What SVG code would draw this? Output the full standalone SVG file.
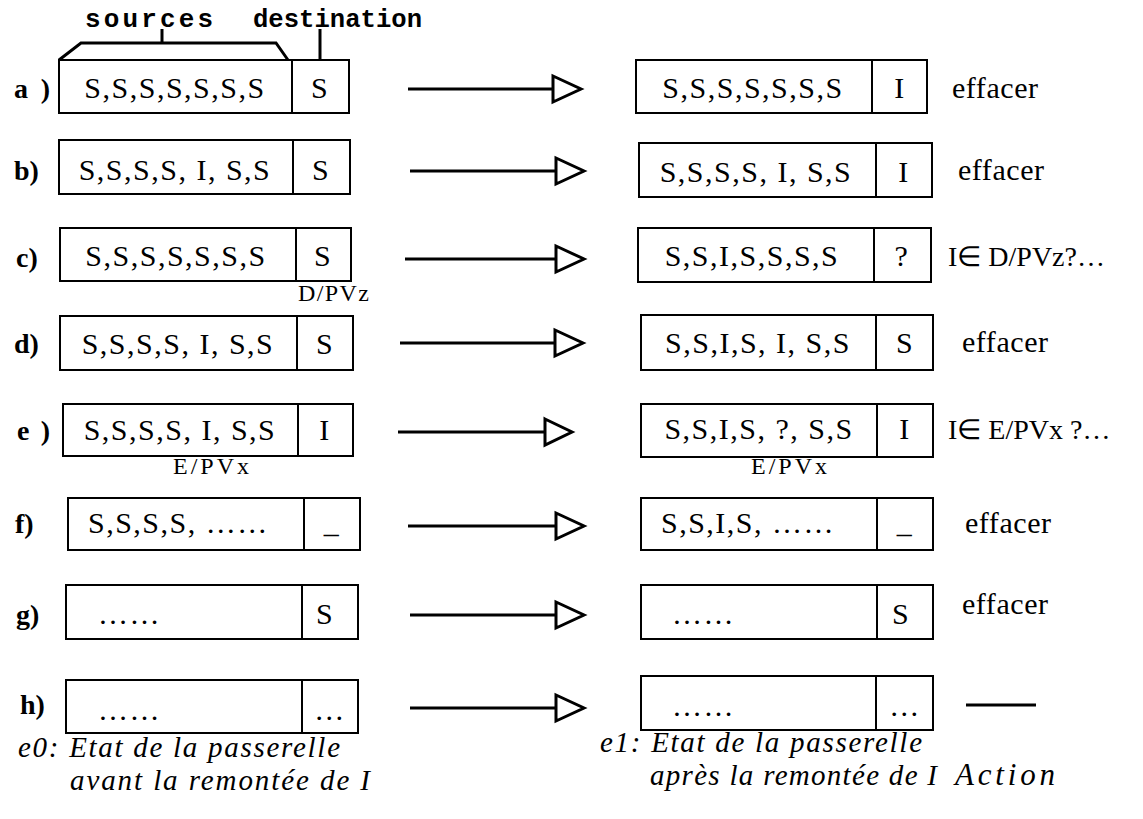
<svg xmlns="http://www.w3.org/2000/svg" width="1143" height="819" viewBox="0 0 1143 819">
<style>
.box{fill:#fff;stroke:#000;stroke-width:2}
.div{stroke:#000;stroke-width:2}
.t{font-family:"Liberation Serif","Times New Roman",serif;font-size:30px;letter-spacing:1.5px;fill:#000}
.m{text-anchor:middle}
.lb{font-family:"Liberation Serif","Times New Roman",serif;font-size:28px;font-weight:bold;fill:#000}
.sm{font-family:"Liberation Serif","Times New Roman",serif;font-size:24px;fill:#000}
.act{font-family:"Liberation Serif","Times New Roman",serif;font-size:30px;fill:#000}
.q{font-family:"Liberation Serif","Times New Roman",serif;font-size:28px;fill:#000}
.mono{font-family:"Liberation Mono","Courier New",monospace;font-size:26px;font-weight:bold;fill:#000}
.it{font-family:"Liberation Serif","Times New Roman",serif;font-size:29px;font-style:italic;fill:#000}
.ln{stroke:#000;stroke-width:3;fill:none}
.tri{stroke:#000;stroke-width:3;fill:#fff;stroke-linejoin:miter}
.br{stroke:#000;stroke-width:3;fill:none}
</style>

<g id="header">
  <text class="mono" x="85" y="27" textLength="128" lengthAdjust="spacing">sources</text>
  <text class="mono" x="253" y="27" textLength="169" lengthAdjust="spacingAndGlyphs">destination</text>
  <polyline class="br" points="59,60 81,43 276,43 288,60"/>
  <line class="br" x1="162" y1="43" x2="162" y2="29"/>
  <line class="br" x1="320" y1="29" x2="320" y2="60"/>
</g>

<g id="row-a">
  <text class="lb" x="14" y="98" textLength="36" lengthAdjust="spacing">a)</text>
  <rect class="box" x="59" y="60" width="290" height="53"/>
  <line class="div" x1="292" y1="60" x2="292" y2="113"/>
  <text class="t m" x="175" y="98">S,S,S,S,S,S,S</text>
  <text class="t m" x="320" y="98">S</text>
  <rect class="box" x="636" y="60" width="291" height="53"/>
  <line class="div" x1="872" y1="60" x2="872" y2="113"/>
  <text class="t m" x="753" y="98">S,S,S,S,S,S,S</text>
  <text class="t m" x="900" y="98">I</text>
  <text class="act" x="952" y="98" textLength="86" lengthAdjust="spacing">effacer</text>
</g>

<g id="row-b">
  <text class="lb" x="14" y="180">b)</text>
  <rect class="box" x="59" y="140" width="291" height="54"/>
  <line class="div" x1="293" y1="140" x2="293" y2="194"/>
  <text class="t m" x="175" y="180">S,S,S,S, I, S,S</text>
  <text class="t m" x="321" y="180">S</text>
  <rect class="box" x="639" y="143" width="293" height="54"/>
  <line class="div" x1="876" y1="143" x2="876" y2="197"/>
  <text class="t m" x="756" y="182">S,S,S,S, I, S,S</text>
  <text class="t m" x="904" y="182">I</text>
  <text class="act" x="958" y="180" textLength="86" lengthAdjust="spacing">effacer</text>
</g>

<g id="row-c">
  <text class="lb" x="16" y="267">c)</text>
  <rect class="box" x="60" y="228" width="291" height="53"/>
  <line class="div" x1="296" y1="228" x2="296" y2="281"/>
  <text class="t m" x="176" y="266">S,S,S,S,S,S,S</text>
  <text class="t m" x="323" y="266">S</text>
  <text class="sm" x="298" y="301" textLength="71" lengthAdjust="spacing">D/PVz</text>
  <rect class="box" x="638" y="228" width="293" height="54"/>
  <line class="div" x1="874" y1="228" x2="874" y2="282"/>
  <text class="t m" x="752" y="266">S,S,I,S,S,S,S</text>
  <text class="t m" x="902" y="266">?</text>
  <text class="q" x="948" y="266">I∈ D/PVz?…</text>
</g>

<g id="row-d">
  <text class="lb" x="14" y="353">d)</text>
  <rect class="box" x="60" y="316" width="293" height="54"/>
  <line class="div" x1="297" y1="316" x2="297" y2="370"/>
  <text class="t m" x="178" y="354">S,S,S,S, I, S,S</text>
  <text class="t m" x="325" y="354">S</text>
  <rect class="box" x="641" y="315" width="292" height="55"/>
  <line class="div" x1="876" y1="315" x2="876" y2="370"/>
  <text class="t m" x="758" y="353">S,S,I,S, I, S,S</text>
  <text class="t m" x="905" y="353">S</text>
  <text class="act" x="962" y="352" textLength="86" lengthAdjust="spacing">effacer</text>
</g>

<g id="row-e">
  <text class="lb" x="17" y="440" textLength="33" lengthAdjust="spacing">e)</text>
  <rect class="box" x="63" y="404" width="290" height="52"/>
  <line class="div" x1="298" y1="404" x2="298" y2="456"/>
  <text class="t m" x="180" y="440">S,S,S,S, I, S,S</text>
  <text class="t m" x="325" y="440">I</text>
  <text class="sm" x="173" y="474" textLength="76" lengthAdjust="spacing">E/PVx</text>
  <rect class="box" x="641" y="404" width="292" height="53"/>
  <line class="div" x1="877" y1="404" x2="877" y2="457"/>
  <text class="t m" x="759" y="439">S,S,I,S, ?, S,S</text>
  <text class="t m" x="905" y="439">I</text>
  <text class="sm" x="751" y="474" textLength="76" lengthAdjust="spacing">E/PVx</text>
  <text class="q" x="948" y="439">I∈ E/PVx ?…</text>
</g>

<g id="row-f">
  <text class="lb" x="15" y="533">f)</text>
  <rect class="box" x="68" y="498" width="292" height="52"/>
  <line class="div" x1="304" y1="498" x2="304" y2="550"/>
  <text class="t" x="88" y="533">S,S,S,S, ……</text>
  <text class="t m" x="332" y="533">_</text>
  <rect class="box" x="641" y="498" width="292" height="52"/>
  <line class="div" x1="877" y1="498" x2="877" y2="550"/>
  <text class="t" x="661" y="533">S,S,I,S, ……</text>
  <text class="t m" x="905" y="533">_</text>
  <text class="act" x="965" y="533" textLength="86" lengthAdjust="spacing">effacer</text>
</g>

<g id="row-g">
  <text class="lb" x="16" y="624">g)</text>
  <rect class="box" x="66" y="585" width="292" height="54"/>
  <line class="div" x1="302" y1="585" x2="302" y2="639"/>
  <text class="t" x="98" y="624">……</text>
  <text class="t m" x="325" y="624">S</text>
  <rect class="box" x="641" y="585" width="292" height="54"/>
  <line class="div" x1="877" y1="585" x2="877" y2="639"/>
  <text class="t" x="672" y="624">……</text>
  <text class="t m" x="901" y="624">S</text>
  <text class="act" x="962" y="614" textLength="86" lengthAdjust="spacing">effacer</text>
</g>

<g id="row-h">
  <text class="lb" x="20" y="714">h)</text>
  <rect class="box" x="66" y="680" width="292" height="53"/>
  <line class="div" x1="302" y1="680" x2="302" y2="733"/>
  <text class="t" x="98" y="720">……</text>
  <text class="t m" x="330" y="720">…</text>
  <rect class="box" x="641" y="676" width="292" height="54"/>
  <line class="div" x1="876" y1="676" x2="876" y2="730"/>
  <text class="t" x="672" y="716">……</text>
  <text class="t m" x="905" y="716">…</text>
  <line class="ln" x1="966" y1="705" x2="1036" y2="705"/>
</g>

<g id="captions">
  <text class="it" x="18" y="757" textLength="322" lengthAdjust="spacing">e0: Etat de la passerelle</text>
  <text class="it" x="70" y="790" textLength="300" lengthAdjust="spacing">avant la remontée de I</text>
  <text class="it" x="600" y="752" textLength="322" lengthAdjust="spacing">e1: Etat de la passerelle</text>
  <text class="it" x="650" y="785" textLength="287" lengthAdjust="spacing">après la remontée de I</text>
  <text class="it" x="955" y="785" style="font-size:31px" textLength="100" lengthAdjust="spacing">Action</text>
</g>

<g id="connectors">
  <line class="ln" x1="408" y1="89" x2="553" y2="89"/>
  <polygon class="tri" points="553,76 581,89 553,102"/>
  <line class="ln" x1="410" y1="171" x2="556" y2="171"/>
  <polygon class="tri" points="556,158 584,171 556,184"/>
  <line class="ln" x1="405" y1="259" x2="556" y2="259"/>
  <polygon class="tri" points="556,246 584,259 556,272"/>
  <line class="ln" x1="400" y1="343" x2="555" y2="343"/>
  <polygon class="tri" points="555,330 583,343 555,356"/>
  <line class="ln" x1="398" y1="432" x2="545" y2="432"/>
  <polygon class="tri" points="545,419 572,432 545,445"/>
  <line class="ln" x1="408" y1="526" x2="556" y2="526"/>
  <polygon class="tri" points="556,513 584,526 556,539"/>
  <line class="ln" x1="410" y1="615" x2="556" y2="615"/>
  <polygon class="tri" points="556,602 584,615 556,628"/>
  <line class="ln" x1="410" y1="708" x2="556" y2="708"/>
  <polygon class="tri" points="556,695 584,708 556,721"/>
</g>
</svg>
